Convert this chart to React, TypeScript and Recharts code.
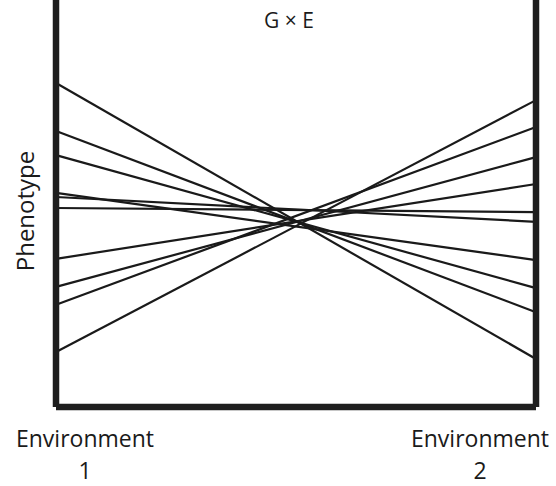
import React from "react";
import { LineChart, Line, XAxis, YAxis } from "recharts";

// phenotype of each genotype in the two environments (0 = bottom of the axis, 100 = top)
const envOne = [79.6, 67.8, 61.9, 52.6, 51.6, 48.9, 36.4, 29.5, 25.1, 13.5];
const envTwo = [11.8, 23.3, 29.2, 36.1, 45.5, 47.9, 54.8, 61.4, 68.8, 75.4];
const envPositions = [0, 1];
const envLabels = ["Environment", "Environment"];
const envNumbers = ["1", "2"];

const genotypeKeys = envOne.map((_, i) => `g${i + 1}`);

const data = envPositions.map((pos, e) => {
  const row: Record<string, number> = { env: pos };
  genotypeKeys.forEach((k, i) => {
    row[k] = e === 0 ? envOne[i] : envTwo[i];
  });
  return row;
});

const FONT = "'Open Sans', 'DejaVu Sans', sans-serif";

function EnvTick(props: any) {
  const { x, y, index } = props;
  const cx = index === 0 ? x + 29 : x - 56;
  return (
    <g>
      <text x={cx} y={y + 32} textAnchor="middle" fontFamily={FONT} fontSize={23} fill="#1a1a1a">
        {envLabels[index]}
      </text>
      <text x={cx} y={y + 64} textAnchor="middle" fontFamily={FONT} fontSize={23} fill="#1a1a1a">
        {envNumbers[index]}
      </text>
    </g>
  );
}

export default function App() {
  const axisLine = { stroke: "#1e1e1e", strokeWidth: 6.5 };
  return (
    <div style={{ position: "absolute", left: 0, top: 0, width: 556, height: 486, background: "#fff" }}>
      <LineChart
        width={556}
        height={486}
        data={data}
        margin={{ top: 0, right: 19, bottom: 78, left: 55 }}
      >
        <XAxis
          type="number"
          dataKey="env"
          domain={[0, 1]}
          ticks={envPositions}
          height={1}
          axisLine={axisLine}
          tickLine={false}
          tick={<EnvTick />}
          interval={0}
        />
        <YAxis yAxisId="l" type="number" domain={[0, 100]} width={1} axisLine={axisLine} tick={false} tickLine={false} />
        <YAxis
          yAxisId="r"
          orientation="right"
          type="number"
          domain={[0, 100]}
          width={1}
          axisLine={axisLine}
          tick={false}
          tickLine={false}
        />
        {genotypeKeys.map((k) => (
          <Line
            key={k}
            yAxisId="l"
            dataKey={k}
            stroke="#1a1a1a"
            strokeWidth={2.2}
            dot={false}
            isAnimationActive={false}
          />
        ))}
      </LineChart>
      <div
        style={{
          position: "absolute",
          left: 289,
          top: 6,
          transform: "translateX(-50%)",
          fontFamily: FONT,
          fontSize: 21,
          lineHeight: "28px",
          color: "#1a1a1a",
          whiteSpace: "pre",
        }}
      >
        G × E
      </div>
      <div
        style={{
          position: "absolute",
          left: 24,
          top: 211,
          transform: "translate(-50%, -50%) rotate(-90deg)",
          fontFamily: FONT,
          fontSize: 24,
          color: "#1a1a1a",
          whiteSpace: "nowrap",
        }}
      >
        Phenotype
      </div>
    </div>
  );
}
